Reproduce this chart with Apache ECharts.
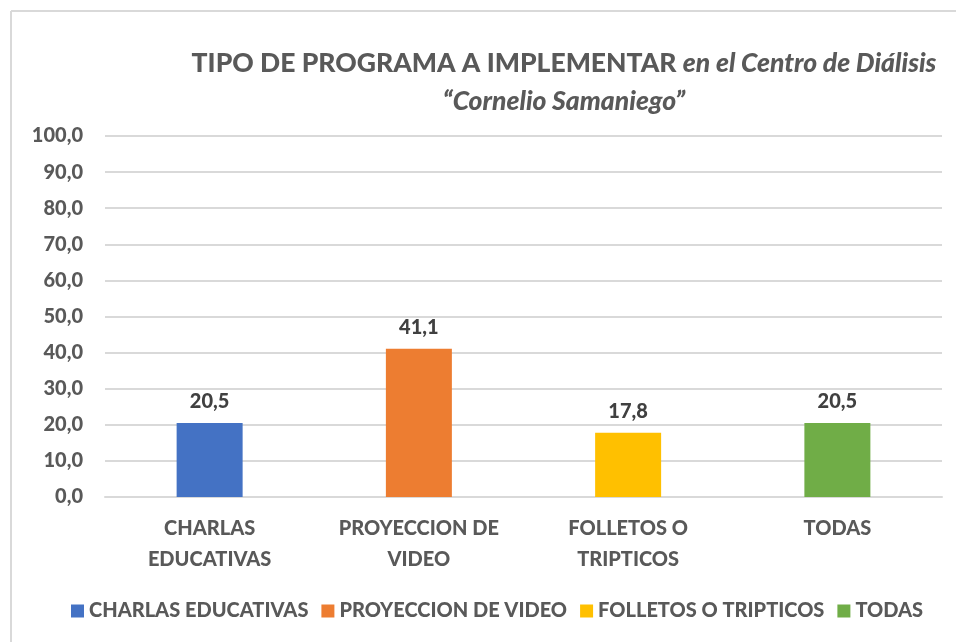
<!DOCTYPE html>
<html>
<head>
<meta charset="utf-8">
<script src="https://cdn.jsdelivr.net/npm/echarts@6/dist/echarts.min.js"></script>
<style>
	html, body { margin: 0; padding: 0; background: #fff; }
	#chart { width: 956px; height: 642px; }
</style>
</head>
<body>
<div id="chart"></div>
<script>
var categories = ['CHARLAS\nEDUCATIVAS', 'PROYECCION DE\nVIDEO', 'FOLLETOS O\nTRIPTICOS', 'TODAS'];
var seriesNames = ['CHARLAS EDUCATIVAS', 'PROYECCION DE VIDEO', 'FOLLETOS O TRIPTICOS', 'TODAS'];
var values = [20.5, 41.1, 17.8, 20.5];
var colors = ['#4472c4', '#ed7d31', '#ffc000', '#70ad47'];
var yTicks = {min: 0, max: 100, interval: 10};

var fontName = 'Lato';
var heavy = 900;
var myChart = echarts.init(document.getElementById('chart'));

// one series per category so each gets its own legend entry
var series = [];
for (var i = 0; i < values.length; i++) {
	var data = [];
	for (var j = 0; j < values.length; j++) {
		data.push(j == i ? values[i] : '-');
	}
	series.push({
		name: seriesNames[i],
		type: 'bar',
		stack: 'all',
		barWidth: 66,
		itemStyle: {color: colors[i]},
		label: {
			show: true,
			position: 'top',
			distance: 11,
			color: '#404040',
			fontFamily: fontName,
			fontWeight: heavy,
			fontSize: 20,
			formatter: function (p) {
				return p.value.toFixed(1).replace('.', ',');
			}
		},
		data: data
	});
}

var option = {
	animation: false,
	title: {
		text: '{b|TIPO DE PROGRAMA A IMPLEMENTAR }{i|en el Centro de Diálisis}\n{i|“Cornelio Samaniego”}',
		left: 559,
		top: 39,
		textAlign: 'center',
		textStyle: {
			rich: {
				b: {fontFamily: fontName, fontWeight: heavy, fontSize: 26.5, color: '#595959', lineHeight: 38},
				i: {fontFamily: fontName, fontWeight: heavy, fontStyle: 'italic', fontSize: 26.5, color: '#595959', lineHeight: 38}
			}
		}
	},
	graphic: [
		{type: 'line', shape: {x1: 11, y1: 11, x2: 956, y2: 11}, style: {stroke: '#d9d9d9', lineWidth: 2}},
		{type: 'line', shape: {x1: 11, y1: 11, x2: 11, y2: 642}, style: {stroke: '#d9d9d9', lineWidth: 2}}
	],
	legend: {
		bottom: 16,
		left: 66,
		itemWidth: 13,
		itemHeight: 13,
		itemGap: 13,
		icon: 'rect',
		textStyle: {fontFamily: fontName, fontWeight: heavy, fontSize: 20, color: '#595959'},
		data: seriesNames
	},
	grid: {left: 105, right: 14, top: 136, bottom: 145, containLabel: false},
	xAxis: {
		type: 'category',
		data: categories,
		axisTick: {show: false},
		axisLine: {lineStyle: {color: '#d9d9d9', width: 2}},
		axisLabel: {
			margin: 16,
			lineHeight: 31,
			fontFamily: fontName,
			fontWeight: heavy,
			fontSize: 20,
			color: '#595959'
		}
	},
	yAxis: {
		type: 'value',
		min: yTicks.min,
		max: yTicks.max,
		interval: yTicks.interval,
		axisLine: {show: false},
		axisTick: {show: false},
		splitLine: {lineStyle: {color: '#d9d9d9', width: 2}},
		axisLabel: {
			margin: 22,
			fontFamily: fontName,
			fontWeight: heavy,
			fontSize: 20,
			color: '#595959',
			formatter: function (v) {
				return v.toFixed(1).replace('.', ',');
			}
		}
	},
	series: series
};
myChart.setOption(option, true);
</script>
</body>
</html>
